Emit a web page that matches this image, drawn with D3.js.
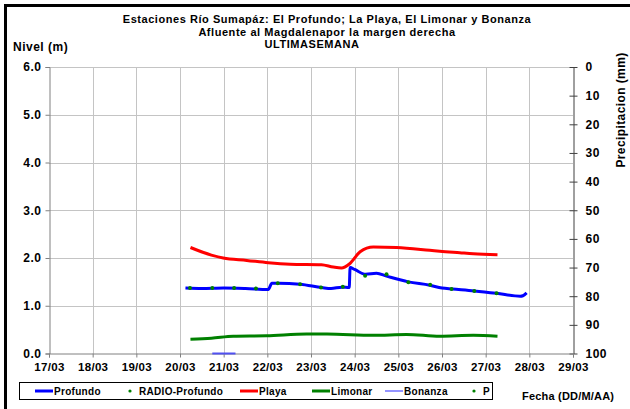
<!DOCTYPE html>
<html>
<head>
<meta charset="utf-8">
<script src="https://cdnjs.cloudflare.com/ajax/libs/d3/7.8.5/d3.min.js"></script>
<style>
  body { margin: 0; background: #fff; }
  text { font-family: "Liberation Sans", Arial, sans-serif; font-weight: bold; fill: #000; }
</style>
</head>
<body>
<div id="chart"></div>
<script>
// Level series (times "DD HH:MM" of March)
var profundoTimes = ['20 03:00', '20 12:00', '21 00:00', '21 12:00', '22 00:30', '22 02:30', '22 06:00', '22 18:00',
  '23 06:00', '23 11:00', '23 17:00', '23 21:00', '23 21:30', '24 00:00', '24 06:00', '24 12:00', '24 17:30',
  '25 05:30', '25 17:15', '26 00:00', '26 05:45', '26 17:45', '27 06:00', '27 19:00', '27 20:30', '27 22:30'];
var profundoValues = [1.37, 1.36, 1.37, 1.36, 1.34, 1.47, 1.47, 1.45,
  1.38, 1.36, 1.39, 1.38, 1.80, 1.76, 1.66, 1.68, 1.62,
  1.50, 1.43, 1.37, 1.35, 1.31, 1.26, 1.20, 1.21, 1.27];

var radioTimes = ['20 05:30', '20 17:45', '21 05:45', '21 17:45', '22 05:45', '22 18:00', '23 05:30', '23 17:30',
  '24 05:45', '24 17:30', '25 05:30', '25 17:30', '26 05:15', '26 17:45', '27 06:00'];
var radioValues = [1.37, 1.37, 1.37, 1.36, 1.47, 1.45, 1.38, 1.40, 1.63, 1.66, 1.49, 1.44, 1.35, 1.31, 1.26];

var playaTimes = ['20 05:45', '20 17:15', '20 23:45', '21 12:45', '22 00:30', '22 12:30', '23 05:45', '23 12:15',
  '23 16:45', '23 21:15', '24 03:00', '24 10:15', '24 23:00', '25 17:15', '25 22:45', '26 09:45', '26 17:15', '27 06:30'];
var playaValues = [2.22, 2.06, 2.00, 1.95, 1.90, 1.87, 1.86, 1.81, 1.79, 1.88, 2.13, 2.23, 2.22, 2.16, 2.14, 2.11, 2.09, 2.07];

var limonarTimes = ['20 05:45', '20 17:15', '21 05:15', '21 23:30', '22 21:30', '23 08:45', '24 10:15', '25 04:30',
  '25 22:45', '26 17:15', '27 06:30'];
var limonarValues = [0.30, 0.32, 0.36, 0.37, 0.41, 0.41, 0.38, 0.40, 0.36, 0.38, 0.36];

var bonanzaTimes = ['20 17:45', '21 06:30'];
var bonanzaValues = [0.0, 0.0];

var pTimes = [];
var pValues = [];

// Axis ticks
var dayTicks = ['17', '18', '19', '20', '21', '22', '23', '24', '25', '26', '27', '28', '29'];
var levelTicks = [0, 1, 2, 3, 4, 5, 6];
var rainTicks = [0, 10, 20, 30, 40, 50, 60, 70, 80, 90, 100];

var titleLines = ['Estaciones Río Sumapáz: El Profundo; La Playa, El Limonar y Bonanza',
  'Afluente al Magdalenapor la margen derecha', 'ULTIMASEMANA'];

var legendItems = [
  { name: 'Profundo', type: 'line', color: '#0000ff', width: 3 },
  { name: 'RADIO-Profundo', type: 'dot', color: '#008000' },
  { name: 'Playa', type: 'line', color: '#ff0000', width: 3 },
  { name: 'Limonar', type: 'line', color: '#008000', width: 3 },
  { name: 'Bonanza', type: 'line', color: '#7070ff', width: 1.5 },
  { name: 'P', type: 'dot', color: '#008000' }
];

var W = 630, H = 409;
var plot = { left: 49, right: 573, top: 67, bottom: 353.5 };

var parseTime = d3.timeParse('%Y-%m-%d %H:%M');
function toDate(s) {
  return parseTime('2011-03-' + s.slice(0, 2) + ' ' + s.slice(3));
}
function zip(times, values) {
  return times.map(function (t, i) {
    return { time: toDate(t), value: values[i] };
  });
}

var svg = d3.select('#chart').append('svg')
  .attr('width', W)
  .attr('height', H);

// frame (top and left black bars)
svg.append('rect').attr('x', 4).attr('y', 4).attr('width', W - 4).attr('height', 3).attr('fill', '#000');
svg.append('rect').attr('x', 4).attr('y', 4).attr('width', 3).attr('height', H - 4).attr('fill', '#000');

var xScale = d3.scaleTime()
  .domain([toDate('17 00:00'), toDate('29 00:00')])
  .range([plot.left, plot.right]);
var yScale = d3.scaleLinear().domain([0, 6]).range([plot.bottom, plot.top]);
var rainScale = d3.scaleLinear().domain([0, 100]).range([plot.top, plot.bottom]);

// gridlines
var grid = svg.append('g').attr('stroke', '#c4c4c4').attr('stroke-width', 1);
grid.selectAll('.hg')
  .data(levelTicks.slice(1))
  .enter()
  .append('line')
  .attr('x1', plot.left).attr('x2', plot.right)
  .attr('y1', function (d) { return Math.round(yScale(d)) + 0.5; })
  .attr('y2', function (d) { return Math.round(yScale(d)) + 0.5; });
grid.selectAll('.vg')
  .data(dayTicks.slice(1, -1))
  .enter()
  .append('line')
  .attr('y1', plot.top).attr('y2', plot.bottom)
  .attr('x1', function (d) { return Math.round(xScale(toDate(d + ' 00:00'))) + 0.5; })
  .attr('x2', function (d) { return Math.round(xScale(toDate(d + ' 00:00'))) + 0.5; });

// left axis
var yAxis = svg.append('g')
  .attr('transform', 'translate(' + (plot.left + 0.5) + ',0)')
  .call(d3.axisLeft(yScale).tickValues(levelTicks).tickSize(4).tickPadding(4).tickFormat(d3.format('.1f')));
yAxis.select('.domain').attr('stroke', '#808080');
yAxis.selectAll('.tick line').attr('stroke', '#808080');
yAxis.selectAll('text').style('font-size', '12px').style('letter-spacing', '0.5px').attr('fill', '#000');

// right axis (precipitation, reversed)
var rAxis = svg.append('g')
  .attr('transform', 'translate(' + (plot.right + 0.5) + ',0)')
  .call(d3.axisRight(rainScale).tickValues(rainTicks).tickSizeInner(4).tickSizeOuter(0).tickPadding(8));
rAxis.select('.domain').attr('stroke', '#404040');
rAxis.selectAll('.tick line').attr('stroke', '#404040').attr('x1', -4);
rAxis.selectAll('text').style('font-size', '12px').style('letter-spacing', '0.5px').attr('fill', '#000');

// bottom axis
var xAxis = svg.append('g')
  .attr('transform', 'translate(0,' + (plot.bottom) + ')')
  .call(d3.axisBottom(xScale)
    .tickValues(dayTicks.map(function (d) { return toDate(d + ' 00:00'); }))
    .tickSize(4).tickPadding(5)
    .tickFormat(d3.timeFormat('%d/%m')));
xAxis.select('.domain').attr('stroke', '#808080');
xAxis.selectAll('.tick line').attr('stroke', '#808080');
xAxis.selectAll('text').style('font-size', '11.5px').style('letter-spacing', '0.3px').attr('fill', '#000');

// series lines
var line = d3.line()
  .x(function (d) { return xScale(d.time); })
  .y(function (d) { return yScale(d.value); })
  .curve(d3.curveMonotoneX);

var seriesData = [
  { name: 'Limonar', values: zip(limonarTimes, limonarValues), color: '#008000', width: 3 },
  { name: 'Playa', values: zip(playaTimes, playaValues), color: '#ff0000', width: 3 },
  { name: 'Profundo', values: zip(profundoTimes, profundoValues), color: '#0000ff', width: 3 },
  { name: 'Bonanza', values: zip(bonanzaTimes, bonanzaValues), color: '#5050f0', width: 2 }
];

svg.selectAll('.series')
  .data(seriesData)
  .enter()
  .append('path')
  .attr('d', function (d) { return line(d.values); })
  .attr('stroke', function (d) { return d.color; })
  .style('stroke-width', function (d) { return d.width; })
  .style('stroke-linejoin', 'round')
  .style('fill', 'none');

// RADIO-Profundo dots
svg.selectAll('.radio')
  .data(zip(radioTimes, radioValues))
  .enter()
  .append('circle')
  .attr('cx', function (d) { return xScale(d.time); })
  .attr('cy', function (d) { return yScale(d.value); })
  .attr('r', 2)
  .attr('fill', '#008000');

// P dots (precipitation)
svg.selectAll('.pdot')
  .data(zip(pTimes, pValues))
  .enter()
  .append('circle')
  .attr('cx', function (d) { return xScale(d.time); })
  .attr('cy', function (d) { return rainScale(d.value); })
  .attr('r', 1.5)
  .attr('fill', '#008000');

// titles
svg.selectAll('.title')
  .data(titleLines)
  .enter()
  .append('text')
  .attr('x', function (d, i) { return i == 2 ? 312 : 327; })
  .attr('y', function (d, i) { return 23 + i * 12.5; })
  .attr('text-anchor', 'middle')
  .style('font-size', '11px')
  .style('letter-spacing', '0.55px')
  .text(function (d) { return d; });

svg.append('text')
  .attr('x', 13).attr('y', 51)
  .style('font-size', '12px')
  .style('letter-spacing', '0.5px')
  .text('Nivel (m)');

svg.append('text')
  .attr('transform', 'translate(621,' + 110 + ') rotate(-90)')
  .attr('text-anchor', 'middle')
  .attr('dominant-baseline', 'central')
  .style('font-size', '12px')
  .style('letter-spacing', '0.4px')
  .text('Precipitacion (mm)');

svg.append('text')
  .attr('x', 522).attr('y', 400)
  .style('font-size', '11px')
  .style('letter-spacing', '0.2px')
  .text('Fecha (DD/M/AA)');

// legend
var legendX = [35, 130, 240, 312, 385, 474];
var legend = svg.append('g');
legend.append('rect')
  .attr('x', 19.5).attr('y', 382.5)
  .attr('width', 473).attr('height', 17)
  .attr('fill', '#fff')
  .attr('stroke', '#000');

var items = legend.selectAll('.item')
  .data(legendItems)
  .enter()
  .append('g')
  .attr('transform', function (d, i) { return 'translate(' + legendX[i] + ',391)'; });

items.filter(function (d) { return d.type == 'line'; })
  .append('line')
  .attr('x1', 0).attr('x2', 18)
  .attr('stroke', function (d) { return d.color; })
  .style('stroke-width', function (d) { return d.width; });

items.filter(function (d) { return d.type == 'dot'; })
  .append('circle')
  .attr('r', 1.6)
  .attr('fill', function (d) { return d.color; });

items.append('text')
  .attr('x', function (d) { return d.type == 'line' ? 19 : 9; })
  .attr('dominant-baseline', 'central')
  .style('font-size', '10px')
  .style('letter-spacing', '0.3px')
  .text(function (d) { return d.name; });
</script>
</body>
</html>
